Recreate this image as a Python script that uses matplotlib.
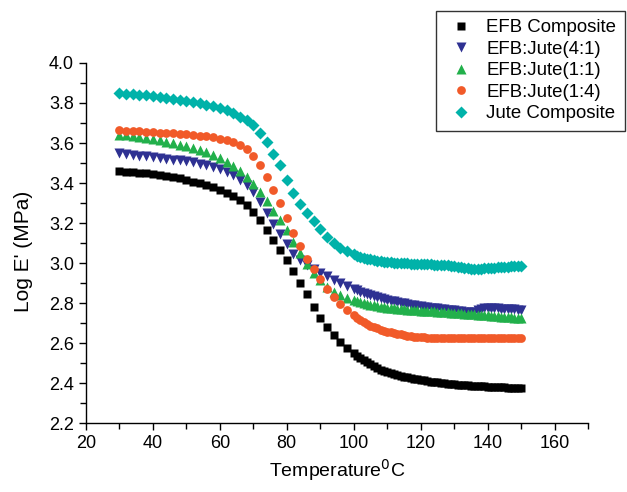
"""Log storage modulus vs temperature for EFB / jute composites (DMA)."""

import matplotlib

matplotlib.use("Agg")
import matplotlib.pyplot as plt
from matplotlib.ticker import MultipleLocator

plt.rcParams["font.family"] = ["Liberation Sans", "DejaVu Sans"]

# temperature grid [deg C] shared by all traces (DMA samples get denser at high T)
temperature = [
    30, 32, 34, 36, 38, 40, 42, 44, 46, 48, 50, 52, 54, 56, 58, 60, 62, 64, 66, 68,
    70, 72, 74, 76, 78, 80, 82, 84, 86, 88, 90, 92, 94, 96, 98, 100,
    101, 102, 103, 104, 105, 106, 107, 108, 109, 110, 111, 112, 113, 114, 115,
    116, 117, 118, 119, 120, 121, 122, 123, 124, 125, 126, 127, 128, 129, 130,
    131, 132, 133, 134, 135, 136, 137, 138, 139, 140, 141, 142, 143, 144, 145,
    146, 147, 148, 149, 150,
]

# log E' [MPa]
efb = [
    3.460, 3.457, 3.454, 3.451, 3.448, 3.445, 3.440, 3.435, 3.430, 3.423, 3.415,
    3.407, 3.398, 3.389, 3.378, 3.366, 3.350, 3.333, 3.313, 3.290, 3.255, 3.215,
    3.165, 3.115, 3.065, 3.015, 2.960, 2.900, 2.845, 2.780, 2.725, 2.680, 2.640,
    2.605, 2.575, 2.550,
    2.537, 2.525, 2.514, 2.503, 2.493, 2.483, 2.475, 2.467, 2.461, 2.455,
    2.450, 2.445, 2.441, 2.437, 2.433, 2.430, 2.426, 2.423, 2.420, 2.417,
    2.414, 2.411, 2.408, 2.406, 2.404, 2.402, 2.400, 2.398, 2.396, 2.394,
    2.392, 2.391, 2.390, 2.389, 2.388, 2.387, 2.386, 2.385, 2.384, 2.383,
    2.382, 2.381, 2.380, 2.380, 2.379, 2.378, 2.378, 2.377, 2.377, 2.376,
]
efb_jute_41 = [
    3.550, 3.545, 3.541, 3.537, 3.533, 3.529, 3.525, 3.521, 3.517, 3.513, 3.509,
    3.503, 3.497, 3.490, 3.481, 3.469, 3.455, 3.438, 3.416, 3.390, 3.355, 3.305,
    3.250, 3.193, 3.143, 3.093, 3.047, 3.015, 2.990, 2.968, 2.952, 2.934, 2.917,
    2.900, 2.884, 2.870,
    2.863, 2.857, 2.851, 2.845, 2.839, 2.833, 2.828, 2.823, 2.819, 2.815,
    2.811, 2.808, 2.804, 2.801, 2.798, 2.795, 2.792, 2.789, 2.786, 2.784,
    2.781, 2.779, 2.777, 2.775, 2.773, 2.771, 2.769, 2.767, 2.765, 2.763,
    2.761, 2.759, 2.757, 2.755, 2.754, 2.756, 2.764, 2.772, 2.775, 2.776,
    2.776, 2.775, 2.774, 2.772, 2.771, 2.770, 2.769, 2.768, 2.767, 2.766,
]
efb_jute_11 = [
    3.642, 3.638, 3.634, 3.630, 3.625, 3.620, 3.614, 3.607, 3.600, 3.592, 3.584,
    3.575, 3.565, 3.553, 3.541, 3.525, 3.507, 3.486, 3.460, 3.430, 3.395, 3.355,
    3.310, 3.262, 3.214, 3.165, 3.105, 3.048, 2.995, 2.950, 2.913, 2.880, 2.857,
    2.839, 2.825, 2.813,
    2.808, 2.803, 2.799, 2.795, 2.791, 2.788, 2.785, 2.782, 2.779, 2.777,
    2.775, 2.773, 2.771, 2.770, 2.768, 2.767, 2.765, 2.764, 2.763, 2.762,
    2.761, 2.760, 2.759, 2.758, 2.757, 2.756, 2.755, 2.754, 2.752, 2.751,
    2.749, 2.748, 2.747, 2.746, 2.744, 2.743, 2.742, 2.741, 2.739, 2.738,
    2.736, 2.735, 2.733, 2.732, 2.730, 2.729, 2.728, 2.727, 2.726, 2.725,
]
efb_jute_14 = [
    3.664, 3.662, 3.660, 3.658, 3.656, 3.654, 3.652, 3.650, 3.648, 3.646, 3.643,
    3.640, 3.637, 3.633, 3.628, 3.622, 3.614, 3.604, 3.588, 3.568, 3.536, 3.490,
    3.430, 3.364, 3.300, 3.225, 3.150, 3.085, 3.022, 2.970, 2.918, 2.868, 2.828,
    2.794, 2.763, 2.738,
    2.727, 2.716, 2.705, 2.695, 2.687, 2.680, 2.673, 2.667, 2.662, 2.657,
    2.653, 2.650, 2.646, 2.643, 2.640, 2.637, 2.634, 2.632, 2.630, 2.629,
    2.628, 2.627, 2.626, 2.626, 2.625, 2.625, 2.625, 2.625, 2.624, 2.624,
    2.624, 2.624, 2.624, 2.624, 2.624, 2.623, 2.623, 2.623, 2.623, 2.623,
    2.623, 2.623, 2.623, 2.623, 2.623, 2.623, 2.623, 2.623, 2.623, 2.623,
]
jute = [
    3.850, 3.847, 3.844, 3.841, 3.838, 3.835, 3.831, 3.826, 3.821, 3.815, 3.810,
    3.804, 3.798, 3.792, 3.786, 3.777, 3.764, 3.748, 3.730, 3.713, 3.688, 3.648,
    3.603, 3.546, 3.488, 3.414, 3.352, 3.293, 3.252, 3.212, 3.170, 3.132, 3.100,
    3.075, 3.058, 3.043,
    3.037, 3.031, 3.026, 3.022, 3.018, 3.015, 3.012, 3.009, 3.007, 3.005,
    3.003, 3.002, 3.001, 3.000, 2.999, 2.998, 2.997, 2.996, 2.996, 2.995,
    2.995, 2.994, 2.993, 2.992, 2.991, 2.990, 2.989, 2.988, 2.986, 2.984,
    2.982, 2.979, 2.976, 2.974, 2.972, 2.971, 2.971, 2.972, 2.973, 2.974,
    2.975, 2.977, 2.978, 2.980, 2.981, 2.982, 2.983, 2.984, 2.985, 2.985,
]

labels = ["EFB Composite", "EFB:Jute(4:1)", "EFB:Jute(1:1)", "EFB:Jute(1:4)", "Jute Composite"]

fig = plt.figure(figsize=(6.27, 4.92), dpi=100)
ax = fig.add_axes([0.137, 0.140, 0.801, 0.732])

# marker, colour, size per trace
styles = [
    ("s", "#000000", 5.3),
    ("v", "#2e3192", 7.0),
    ("^", "#22b04b", 7.0),
    ("o", "#f15a29", 6.3),
    ("D", "#00b2a9", 5.8),
]
for y, label, (m, c, ms) in zip([efb, efb_jute_41, efb_jute_11, efb_jute_14, jute], labels, styles):
    ax.plot(temperature, y, ls="none", marker=m, color=c, ms=ms, mec="none", label=label)

ax.set_xlim(20, 170)
ax.set_ylim(2.2, 4.0)
ax.xaxis.set_major_locator(MultipleLocator(20))
ax.xaxis.set_minor_locator(MultipleLocator(10))
ax.yaxis.set_major_locator(MultipleLocator(0.2))
ax.yaxis.set_minor_locator(MultipleLocator(0.1))
ax.yaxis.set_major_formatter(plt.FormatStrFormatter("%.1f"))
ax.tick_params(which="both", direction="out", width=1.0, labelsize=13)
ax.tick_params(which="major", length=5)
ax.tick_params(which="minor", length=4)
for side in ("top", "right"):
    ax.spines[side].set_visible(False)
for side in ("left", "bottom"):
    ax.spines[side].set_linewidth(1.0)

ax.set_xlabel("Temperature$^{0}$C", fontsize=14, labelpad=4)
ax.set_ylabel("Log E' (MPa)", fontsize=15)
ax.yaxis.set_label_coords(-0.106, 0.478)

leg = fig.legend(
    loc="upper left",
    bbox_to_anchor=(436 / 627, 1 - 11 / 492),
    borderaxespad=0,
    frameon=True,
    fancybox=False,
    edgecolor="black",
    fontsize=13.4,
    handletextpad=0.45,
    labelspacing=0.24,
    borderpad=0.45,
    handlelength=1.8,
)
leg.get_frame().set_linewidth(1.0)

fig.savefig("out.png", dpi=100)
